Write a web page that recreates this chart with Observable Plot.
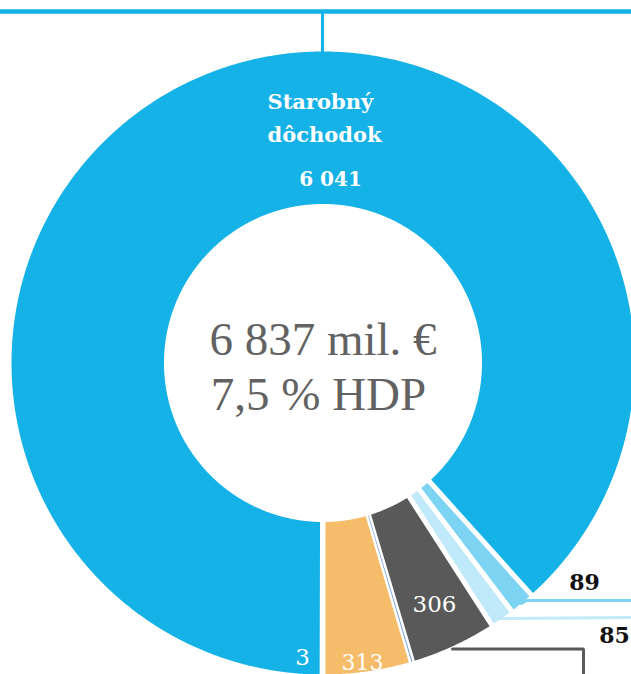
<!DOCTYPE html>
<html>
<head>
<meta charset="utf-8">
<script src="https://cdn.jsdelivr.net/npm/d3@7"></script>
<script src="https://cdn.jsdelivr.net/npm/@observablehq/plot@0.6"></script>
<style>
  html, body { margin: 0; padding: 0; background: #fff; overflow: hidden; }
  #chart svg { display: block; overflow: hidden; }
</style>
</head>
<body>
<div id="chart"></div>
<script>
// ---- DATA (clockwise order, starting at the bottom of the ring) ----
const categories = ["Položka 3", "Starobný dôchodok", "Položka 89", "Položka 85", "Položka 306", "Položka (malá)", "Položka 313"];
const values     = [3, 6041, 89, 85, 306, 4, 313];
const valueLabels = ["3", "6 041", "89", "85", "306", "", "313"];
const centerLines = ["6 837 mil. €", "7,5 % HDP"];
const mainTitle = ["Starobný", "dôchodok"];

// ---- STYLE ----
const palette = ["#8cc63e", "#15b2e8", "#7dd3f2", "#c0eaf9", "#595959", "#7aa3df", "#f5bc6a"];
const padHalf = [2.5, 2.5, 2.5, 2.5, 2.5, 0, 2.5];

// ---- LAYOUT (screen pixels) ----
const W = 631, H = 674;
const CX = 322.5, CY = 362.5, R = 311.5, RIN = 159;
const X = sx => sx - CX;      // screen x -> data x
const Y = sy => CY - sy;      // screen y -> data y (up)

const rows = categories.map((c, i) => ({category: c, value: values[i], label: valueLabels[i], color: palette[i], pad: padHalf[i]}));
const arcs = d3.pie().sort(null).value(d => d.value).startAngle(Math.PI).endAngle(3 * Math.PI)(rows);

function ring(a0, a1, h) {
  const o0 = a0 + Math.asin(h / R), o1 = a1 - Math.asin(h / R);
  const i0 = a0 + Math.asin(h / RIN), i1 = a1 - Math.asin(h / RIN);
  if (o1 <= o0 || i1 <= i0) return [];
  const pts = [];
  const n = Math.max(2, Math.ceil((o1 - o0) / 0.004));
  for (let k = 0; k <= n; k++) { const a = o0 + (o1 - o0) * k / n; pts.push({x: R * Math.sin(a), y: R * Math.cos(a)}); }
  const m = Math.max(2, Math.ceil((i1 - i0) / 0.004));
  for (let k = m; k >= 0; k--) { const a = i0 + (i1 - i0) * k / m; pts.push({x: RIN * Math.sin(a), y: RIN * Math.cos(a)}); }
  return pts;
}

const sliceMarks = arcs.map(a => Plot.line(ring(a.startAngle, a.endAngle, a.data.pad), {
  x: "x", y: "y", fill: a.data.color, stroke: "none", curve: "linear-closed"
}));

// leader lines (layout)
const blue = palette[1];
const leaders = [
  {pts: [[0, 11], [W, 11]], color: blue, w: 4.5},
  {pts: [[322, 11], [322, 53]], color: blue, w: 3},
  {pts: [[521, 603], [526, 600], [W, 600]], color: palette[2], w: 3},
  {pts: [[497, 618], [W, 617]], color: palette[3], w: 3},
  {pts: [[452, 648.5], [583, 648.5], [583, H + 2]], color: palette[4], w: 3}
];
const leaderMarks = leaders.map(l => Plot.line(l.pts.map(([sx, sy]) => ({x: X(sx), y: Y(sy)})), {
  x: "x", y: "y", stroke: l.color, strokeWidth: l.w, strokeLinejoin: "miter"
}));

// label placements (screen pixels)
const serif = "'DejaVu Serif', serif";
const labelPos = {
  "Položka 3":   {sx: 302, sy: 664, fill: "#fff", weight: "normal", size: 23},
  "Starobný dôchodok": {sx: 330, sy: 185, fill: "#fff", weight: "bold", size: 20},
  "Položka 89":  {sx: 584, sy: 589, fill: "#111", weight: "bold", size: 22},
  "Položka 85":  {sx: 614, sy: 642, fill: "#111", weight: "bold", size: 22},
  "Položka 306": {sx: 434, sy: 611, fill: "#fff", weight: "normal", size: 23},
  "Položka 313": {sx: 362, sy: 669, fill: "#fff", weight: "normal", size: 22}
};
const labelMarks = arcs.filter(a => a.data.label && labelPos[a.data.category]).map(a => {
  const p = labelPos[a.data.category];
  return Plot.text([a.data], {
    x: () => X(p.sx), y: () => Y(p.sy), text: "label", fill: p.fill, fontWeight: p.weight,
    fontSize: p.size, fontFamily: serif, textAnchor: "middle", lineAnchor: "bottom"
  });
});

const titleMarks = mainTitle.map((t, i) => Plot.text([t], {
  x: () => X(267), y: () => Y([108, 141][i]), text: d => d, fill: "#fff", fontWeight: "bold",
  fontSize: 21, fontFamily: serif, textAnchor: "start", lineAnchor: "bottom"
}));

const centerMarks = centerLines.map((t, i) => Plot.text([t], {
  x: () => X([322.5, 318][i]), y: () => Y([354, 409][i]), text: d => d, fill: "#626262",
  fontSize: 47, fontFamily: "'Liberation Serif', serif", textAnchor: "middle", lineAnchor: "bottom"
}));

const chart = Plot.plot({
  width: W, height: H, margin: 0,
  x: {domain: [X(0), X(W)], axis: null},
  y: {domain: [Y(H), Y(0)], axis: null},
  style: {background: "#fff"},
  marks: [...sliceMarks, ...leaderMarks, ...labelMarks, ...titleMarks, ...centerMarks]
});
document.getElementById("chart").appendChild(chart);
</script>
</body>
</html>
